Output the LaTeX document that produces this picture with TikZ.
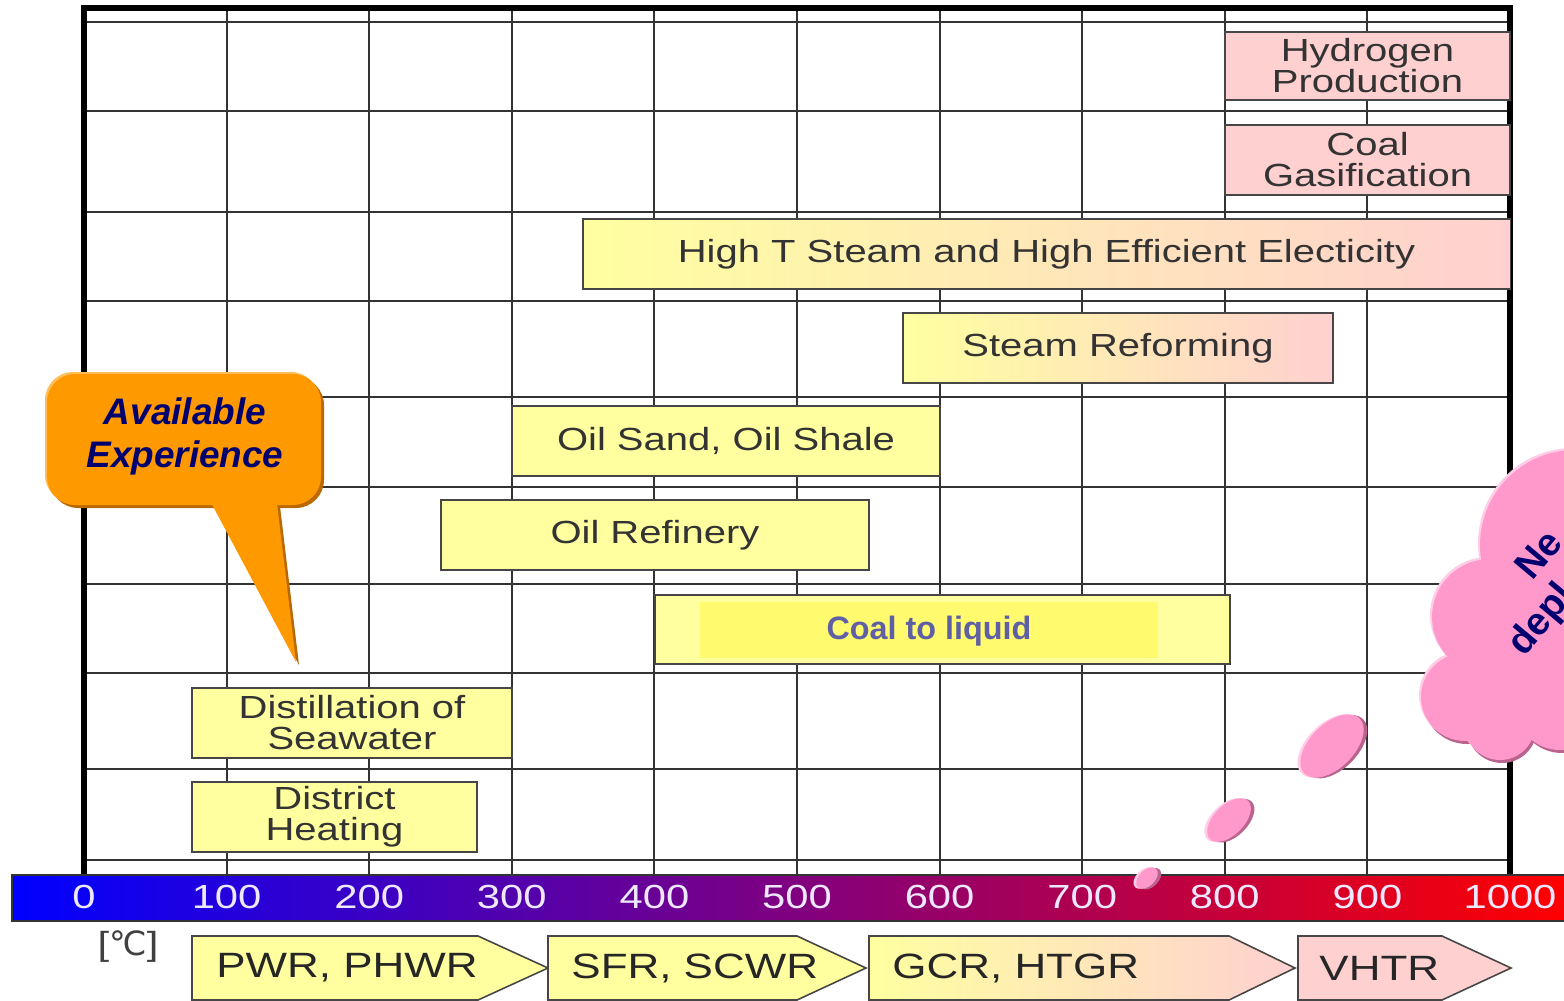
\documentclass[tikz,border=0pt]{standalone}
\usepackage{fontspec}
\setmainfont{Liberation Sans}
\newfontfamily\widefont[FakeStretch=1.25]{Liberation Sans}
\newfontfamily\degfont{DejaVu Sans}

\definecolor{appyellow}{RGB}{255,255,160}
\definecolor{apppink}{RGB}{255,208,208}
\definecolor{ctlyellow}{RGB}{255,250,110}
\definecolor{ctltext}{RGB}{95,95,165}
\definecolor{boxline}{RGB}{70,70,70}
\definecolor{barnum}{RGB}{238,232,255}
\definecolor{calloutorange}{RGB}{255,153,0}
\definecolor{calloutshade}{RGB}{185,105,0}
\definecolor{calloutlight}{RGB}{255,190,90}
\definecolor{navytext}{RGB}{0,0,110}
\definecolor{cloudpink}{RGB}{255,153,204}
\definecolor{cloudshade}{RGB}{185,100,140}
\definecolor{cloudlight}{RGB}{255,205,230}

\begin{document}
\begin{tikzpicture}[x=0.01cm, y=-0.01cm,
  grid line/.style={line width=0.6pt, black!80},
  frame line/.style={line width=1.7pt, black},
  appbox/.style={draw=boxline, line width=0.45pt, fill=appyellow, inner sep=0pt, align=center, text=black!80, font=\widefont\fontsize{9.1}{8.8}\selectfont},
  pinkbox/.style={appbox, fill=apppink},
  mixbox/.style={appbox, left color=appyellow, right color=apppink},
  barlabel/.style={text=barnum, font=\widefont\fontsize{9.5}{10}\selectfont},
  reactor/.style={draw=boxline, line width=0.45pt},
  reactorlabel/.style={anchor=west, text=black!85, font=\widefont\fontsize{10}{12}\selectfont},
  calltext/.style={text=navytext, align=center, font=\bfseries\itshape\fontsize{10.5}{12.2}\selectfont},
  cloudtext/.style={text=navytext, rotate=50, align=left, inner sep=0pt, font=\bfseries\fontsize{11}{12.2}\selectfont}]

\useasboundingbox (0,0) rectangle (1564,1000);
\clip (0,0) rectangle (1564,1000);

% temperature grid
\foreach \i in {1,...,9}
  \draw[grid line] ({84+142.6*\i},8) -- ({84+142.6*\i},875);
\foreach \y in {22,111,212,301,397,487,584,673,769,860}
  \draw[grid line] (84,\y) -- (1510,\y);
\draw[frame line] (84,875) -- (84,8) -- (1510,8) -- (1510,875);

% applications
\node[pinkbox, minimum width=2.85cm, minimum height=0.68cm] (hydro) at (1367.5,66) {Hydrogen\\Production};
\node[pinkbox, minimum width=2.85cm, minimum height=0.70cm] (gasif) at (1367.5,160) {Coal\\Gasification};
\node[mixbox, minimum width=9.27cm, minimum height=0.70cm] (steam) at (1046.5,254) {High T Steam and High Efficient Electicity};
\node[mixbox, minimum width=4.30cm, minimum height=0.70cm] (reform) at (1118,348) {Steam Reforming};
\node[appbox, minimum width=4.28cm, minimum height=0.70cm] (oilsand) at (726,441) {Oil Sand, Oil Shale};
\node[appbox, minimum width=4.28cm, minimum height=0.70cm] (refinery) at (655,535) {Oil Refinery};
\node[appbox, minimum width=5.75cm, minimum height=0.69cm] (ctlbox) at (942.5,629.5) {};
\fill[ctlyellow] (700,602) rectangle (1158,658);
\node[text=ctltext, font=\bfseries\fontsize{9.2}{11}\selectfont] (ctl) at (929,631) {Coal to liquid};
\node[appbox, minimum width=3.20cm, minimum height=0.70cm] (distil) at (352,723) {Distillation of\\Seawater};
\node[appbox, minimum width=2.85cm, minimum height=0.70cm] (district) at (334.5,817) {District\\Heating};

% callout
\begin{scope}[shift={(3,3)}]
  \fill[calloutshade, rounded corners=8pt] (47,374) rectangle (321,505);
  \fill[calloutshade] (207,495) -- (296,662) -- (276,495) -- cycle;
\end{scope}
\fill[calloutlight, rounded corners=8pt] (45,372) rectangle (319,503);
\fill[calloutorange, rounded corners=8pt] (47,374) rectangle (321,505);
\fill[calloutorange] (207,495) -- (296,662) -- (276,495) -- cycle;
\node[calltext] (avail) at (185,436) {Available\\Experience};

% temperature bar
\draw[black!80, line width=0.5pt, left color=blue, right color=red] (12,875) rectangle (1570,921);
\foreach \t [count=\k from 0] in {0,100,...,1000}
  \node[barlabel] (t\t) at ({84+142.6*\k},897) {\t};

% cloud and bubbles
\foreach \dx/\dy/\col in {2/3/cloudshade, -2/-2/cloudlight, 0/0/cloudpink}{
  \foreach \cx/\cy/\r in {1575/545/95, 1490/617/58, 1465/697/44, 1500/725/35, 1560/705/45, 1640/600/160}
    \fill[\col] ({\cx+\dx},{\cy+\dy}) circle [radius=\r];
  \foreach \cx/\cy/\rx/\ry in {1147/878/13/8, 1229/820/27/15, 1332/746/39/22}
    \fill[\col, rotate around={45:(\cx,\cy)}] ({\cx+\dx},{\cy+\dy}) ellipse [x radius=\rx, y radius=\ry];
}
\node[cloudtext, anchor=base west] (need) at (1524,658) {\hspace*{18pt}Ne\\depl};

% reactor types
\node[text=black!75, font=\widefont\fontsize{9.5}{11}\selectfont] (unit) at (128,947) {[{\degfont ℃}]};
\draw[reactor, fill=appyellow] (192,936) -- (478,936) -- (548,968) -- (478,1000) -- (192,1000) -- cycle;
\draw[reactor, fill=appyellow] (548,936) -- (797,936) -- (866,968) -- (797,1000) -- (548,1000) -- cycle;
\draw[reactor, left color=appyellow, right color=apppink] (869,936) -- (1229,936) -- (1295,968) -- (1229,1000) -- (869,1000) -- cycle;
\draw[reactor, fill=apppink] (1298,936) -- (1442,936) -- (1511,968) -- (1442,1000) -- (1298,1000) -- cycle;
\node[reactorlabel] (pwr) at (204,968) {PWR, PHWR};
\node[reactorlabel] (sfr) at (559,968) {SFR, SCWR};
\node[reactorlabel] (gcr) at (880,968) {GCR, HTGR};
\node[reactorlabel] (vhtr) at (1307,968) {VHTR};
\end{tikzpicture}
\end{document}
